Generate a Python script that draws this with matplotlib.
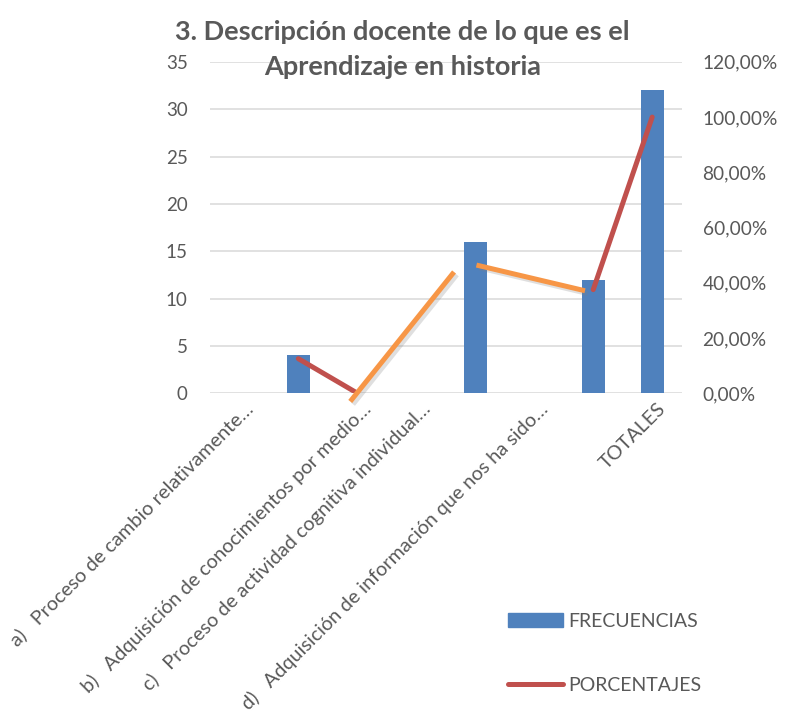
import matplotlib
matplotlib.use("Agg")
import matplotlib.pyplot as plt
import matplotlib.patheffects as pe
import matplotlib.transforms as mtransforms
from matplotlib.lines import Line2D
from matplotlib.patches import Patch
import numpy as np

plt.rcParams['font.family'] = ['Lato', 'DejaVu Sans']

# datos
categorias = [
    "a)   Proceso de cambio relativamente…",
    "",
    "b)   Adquisición de conocimientos por medio…",
    "c)   Proceso de actividad cognitiva individual…",
    "",
    "d)   Adquisición de información que nos ha sido…",
    "",
    "TOTALES",
]
frecuencias = [0, 4, 0, 0, 16, 0, 12, 32]
porcentajes = [np.nan, 0.125, 0.0, np.nan, np.nan, np.nan, 0.375, 1.0]

# tramos naranjas (desplazados respecto a las categorias)
naranja1_x = [1.88, 3.64]
naranja1_y = [-0.03, 0.439]
naranja2_x = [4.02, 5.86]
naranja2_y = [0.464, 0.371]

titulo = ["3. Descripción docente de lo que es el", "Aprendizaje en historia"]

gris = '#595959'
azul = '#4F81BD'
rojo = '#C0504D'
naranja = '#F79646'

fig = plt.figure(figsize=(7.89, 7.11), dpi=100)
ax = fig.add_axes([0.266, 0.447, 0.598, 0.466])
ax2 = ax.twinx()

x = np.arange(len(categorias))
ax.bar(x, frecuencias, width=0.39, color=azul, zorder=2)

ax.set_xlim(-0.5, len(categorias) - 0.5)
ax.set_ylim(0, 35)
ax.set_yticks(range(0, 36, 5))
ax.grid(axis='y', color='#D9D9D9', linewidth=1.1, zorder=0)
ax.set_axisbelow(True)

ax2.set_ylim(0, 1.2)
ax2.set_yticks(np.arange(0, 1.21, 0.2))
ax2.set_yticklabels([f"{v * 100:.2f}%".replace('.', ',') for v in np.arange(0, 1.21, 0.2)])

ax2.plot(x, porcentajes, color=rojo, linewidth=3.6, solid_capstyle='round', zorder=3)
sombra = [pe.SimpleLineShadow(offset=(2, -2), alpha=0.25, shadow_color='gray'), pe.Normal()]
ax2.plot(naranja1_x, naranja1_y, color=naranja, linewidth=3.6, solid_capstyle='butt',
         path_effects=sombra, clip_on=False, zorder=4)
ax2.plot(naranja2_x, naranja2_y, color=naranja, linewidth=3.6, solid_capstyle='butt',
         path_effects=sombra, clip_on=False, zorder=4)

for a in (ax, ax2):
    for s in a.spines.values():
        s.set_visible(False)
    a.tick_params(length=0, labelsize=13.5, labelcolor=gris)
ax.tick_params(axis='y', pad=16)
ax2.tick_params(axis='y', pad=15, labelsize=13.8)

ax.set_xticks(x)
ax.set_xticklabels(categorias, rotation=45, ha='right', va='center', rotation_mode='anchor',
                   fontsize=14.3)
ax.tick_params(axis='x', pad=9)
desplaza = mtransforms.ScaledTranslation(0.11, 0, fig.dpi_scale_trans)
for lab in ax.get_xticklabels():
    lab.set_transform(lab.get_transform() + desplaza)

fig.text(0.51, 0.944, titulo[0], ha='center', va='baseline', fontsize=19.5,
         fontweight='bold', color=gris)
fig.text(0.51, 0.895, titulo[1], ha='center', va='baseline', fontsize=19.5,
         fontweight='bold', color=gris)

manejadores = [Patch(color=azul, label='FRECUENCIAS'),
               Line2D([], [], color=rojo, linewidth=3.6, solid_capstyle='round', label='PORCENTAJES')]
fig.legend(handles=manejadores, loc='upper left', bbox_to_anchor=(0.644, 0.138),
           frameon=False, fontsize=14, labelcolor=gris, handlelength=2.8,
           handletextpad=0.3, labelspacing=2.4, borderpad=0, borderaxespad=0)

fig.savefig('out.png', dpi=100)
